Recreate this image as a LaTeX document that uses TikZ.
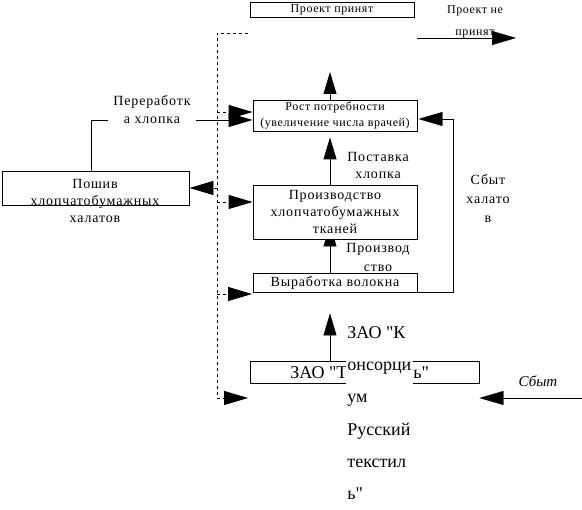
\documentclass[tikz,border=0pt]{standalone}
\usepackage{fontspec}
\setmainfont{Liberation Serif}[Ligatures=TeXOff]
\newfontfamily\sfnt[LetterSpace=5]{Liberation Serif}
\newfontfamily\bfnt[LetterSpace=6]{Liberation Serif}
\newfontfamily\zfnt[Ligatures=TeXOff]{Liberation Serif}
\usetikzlibrary{arrows.meta}
\pgfdeclarelayer{bg}
\pgfsetlayers{bg,main}
\begin{document}
\begin{tikzpicture}[x=1pt,y=-1pt,
  line width=0.9pt,
  box/.style={draw, fill=white, inner sep=0pt},
  lbl/.style={inner sep=0pt},
  small/.style={font=\sfnt\fontsize{12}{16}\selectfont},
  big/.style={font=\bfnt\fontsize{14}{17}\selectfont},
  zf/.style={font=\zfnt\fontsize{18}{32.2}\selectfont},
  tip/.style={-{Triangle[length=24pt,width=14pt]}},
  vtip/.style={-{Triangle[length=22pt,width=13pt]}},
  dline/.style={dash pattern=on 3pt off 3pt}]
\useasboundingbox (0,0) rectangle (582,510);
\coordinate (axis) at (330,0);

% boxes and texts
\node[box, small, minimum width=164pt, minimum height=15pt] (prinyat) at (332,9.5) {Проект принят};
\node[lbl, align=center, font=\sfnt\fontsize{12}{22}\selectfont] (neprinyat) at (475,22) {Проект не\\принят};
\node[box, small, align=center, minimum width=164pt, minimum height=31pt] (rost) at (335,115.5) {Рост потребности\\(увеличение числа врачей)};
\node[box, big, align=center, minimum width=164pt, minimum height=54pt] (proizv) at (335,212) {Производство\\хлопчатобумажных\\тканей};
\node[box, big, minimum width=164pt, minimum height=19pt] (vyrab) at (335,282.5) {Выработка волокна};
\node[box, minimum width=187pt, minimum height=34pt] (poshiv) at (95.5,188) {};
\node[lbl, big, align=center] (poshivtxt) at (95,201) {Пошив\\хлопчатобумажных\\халатов};
\node[lbl, align=center, inner xsep=5pt, font=\bfnt\fontsize{14}{18}\selectfont] (pererab) at (152,110) {Переработк\\а хлопка};
\node[lbl, big, align=center] (postavka) at (378,165.5) {Поставка\\хлопка};
\node[lbl, align=center, font=\bfnt\fontsize{14}{19}\selectfont] (proizvod) at (378,257.5) {Производ\\ство};
\node[lbl, align=center, font=\bfnt\fontsize{14}{19}\selectfont] (sbytx) at (488,198) {Сбыт\\халато\\в};
\node[box, minimum width=229pt, minimum height=22pt] (zao) at (364.5,372) {};
\node[lbl, zf, anchor=west] (zaotxt) at (290,373) {ЗАО "Т\hspace{66pt}ь"};
\fill[white] (346,357) rectangle (413,387);
\node[lbl, zf, align=left, anchor=west] (konsort) at (347,413) {ЗАО "К\\онсорци\\ум\\Русский\\текстил\\ь"};
\node[lbl, font=\itshape\fontsize{15}{17}\selectfont] (sbyt) at (538,381) {Сбыт};

% named free ends
\coordinate (dtop) at (217,33);
\coordinate (dtopr) at (248,33);
\coordinate (dbot) at (217,397);
\coordinate (toptip) at (330,72);
\coordinate (npa) at (417,38);
\coordinate (npb) at (516,38);
\coordinate (rloop) at (453,119);
\coordinate (sbR) at (582,398);
\coordinate (d1) at (217,112);
\coordinate (d2) at (217,188);
\coordinate (d3) at (217,202);
\coordinate (d4) at (217,294);
\coordinate (d4e) at (252,294);
\coordinate (d5) at (217,398);
\coordinate (d5e) at (248,398);
\coordinate (pl) at (91,120);

% dashed frame
\draw[dline] (dtopr) -- (dtop) -- (dbot);
\draw[dline, tip] (d1) -- (rost.west |- d1);
\draw[dline, tip] (d2) -- (poshiv.east |- d2);
\draw[dline, tip] (d3) -- (proizv.west |- d3);
\draw[dline, tip] (d4) -- (d4e);
\draw[dline, tip] (d5) -- (d5e);

% solid connectors
\draw (poshiv.north -| pl) |- (pererab.west |- pl);
\draw[tip] (pererab.east |- pl) -- (rost.west |- pl);
\draw[vtip] (rost.north -| axis) -- (toptip);
\draw[vtip, shorten >=6pt] (proizv.north -| axis) -- (rost.south -| axis);
\begin{pgfonlayer}{bg}
\draw[vtip, shorten >=-15pt] (vyrab.north -| axis) -- (proizv.south -| axis);
\end{pgfonlayer}
\draw[vtip, shorten >=21pt] (zao.north -| axis) -- (vyrab.south -| axis);
\draw[tip, shorten >=1pt] (vyrab.south east) -| (rloop) -- (rost.east |- rloop);
\draw[tip] (npa) -- (npb);
\draw[tip] (sbR) -- (zao.east |- sbR);
\end{tikzpicture}
\end{document}
